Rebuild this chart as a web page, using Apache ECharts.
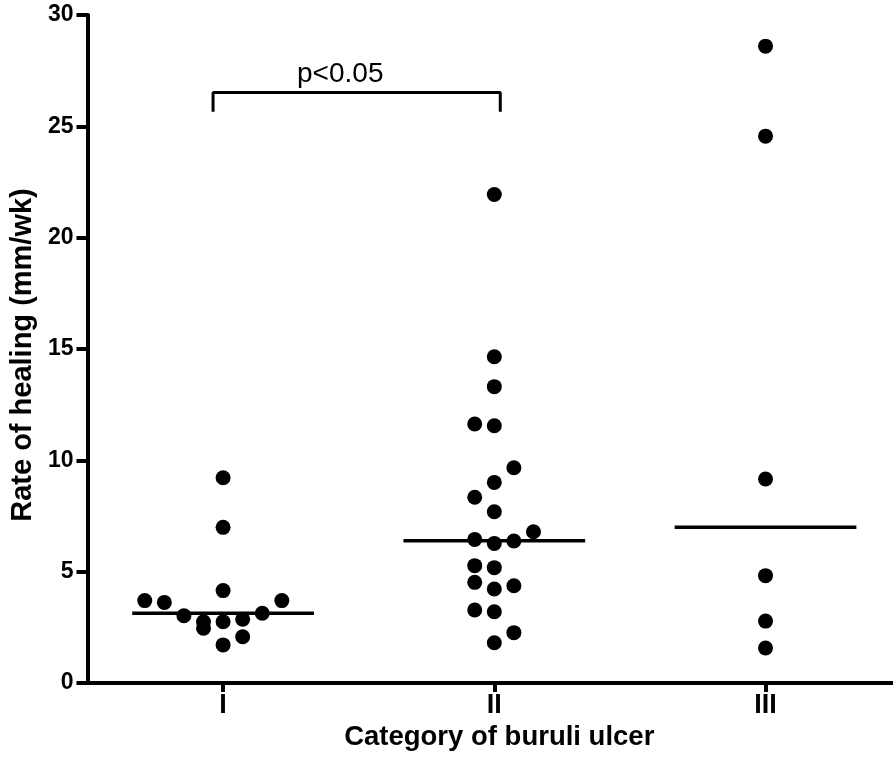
<!DOCTYPE html>
<html><head><meta charset="utf-8">
<script src="https://cdn.jsdelivr.net/npm/echarts@6/dist/echarts.min.js"></script>
<style>html,body{margin:0;padding:0;background:#fff}#c{width:893px;height:765px}</style>
</head><body><div id="c"></div>
<script>
// ---- data ----
const categories = ['I', 'II', 'III'];
const catI   = [9.22, 6.99, 4.15, 3.70, 3.62, 3.70, 3.02, 3.13, 2.75, 2.75, 2.86, 2.46, 2.08, 1.71];
const slotI  = [0, 0, 0, -4, -3, 3, -2, 2, -1, 0, 1, -1, 1, 0];
const catII  = [21.94, 14.65, 13.31, 11.63, 11.55, 9.67, 9.01, 8.34, 7.69, 6.79, 6.45, 6.27, 6.38, 5.27, 5.18, 4.52, 4.22, 4.37, 3.28, 3.20, 2.26, 1.81];
const slotII = [0, 0, 0, -1, 0, 1, 0, -1, 0, 2, -1, 0, 1, -1, 0, -1, 0, 1, -1, 0, 1, 0];
const catIII = [28.6, 24.56, 9.16, 4.82, 2.78, 1.57];
const slotIII = [0, 0, 0, 0, 0, 0];
const medians = [3.13, 6.39, 7.0];
const yTicks = [0, 5, 10, 15, 20, 25, 30];
const sigText = 'p<0.05';
const bracketX = [0.963, 2.022];
const bracketY = [25.65, 26.52];
const sigPos = [1.432, 27.35];

// ---- chart ----
const FONT = 'Liberation Sans, Arial, Helvetica, sans-serif';
const STEP = 0.0722;      // horizontal jitter step (category units)
const HALF = 0.335;       // half width of median line
const groups = [catI, catII, catIII];
const slots = [slotI, slotII, slotIII];

const series = [];
groups.forEach((vals, gi) => {
  series.push({
    type: 'scatter', symbol: 'circle', symbolSize: 15,
    itemStyle: { color: '#000', opacity: 1 }, silent: true,
    data: vals.map((v, i) => [gi + 1 + slots[gi][i] * STEP, v]),
    z: 3
  });
});
medians.forEach((m, gi) => {
  series.push({
    type: 'line', symbol: 'none', silent: true,
    lineStyle: { color: '#000', width: 3.5, opacity: 1 },
    data: [[gi + 1 - HALF, m], [gi + 1 + HALF, m]], z: 2
  });
});
series.push({
  type: 'line', symbol: 'none', silent: true,
  lineStyle: { color: '#000', width: 3, opacity: 1 },
  data: [[bracketX[0], bracketY[0]], [bracketX[0], bracketY[1]], [bracketX[1], bracketY[1]], [bracketX[1], bracketY[0]]]
});
series.push({
  type: 'scatter', symbolSize: 1, itemStyle: { color: '#fff', opacity: 1 }, silent: true,
  label: { show: true, position: 'inside', formatter: sigText, color: '#000', opacity: 1,
           textBorderWidth: 0, fontSize: 28, fontFamily: FONT },
  data: [sigPos]
});

const chart = echarts.init(document.getElementById('c'), null, { renderer: 'canvas' });
chart.setOption({
  animation: false,
  backgroundColor: '#fff',
  grid: { left: 87, right: 0, top: 15, bottom: 82, containLabel: false },
  xAxis: {
    type: 'value', min: 0.5, max: 3.47,
    name: 'Category of buruli ulcer', nameLocation: 'middle', nameGap: 35,
    nameTextStyle: { fontSize: 27.5, fontWeight: 'bold', color: '#000', fontFamily: FONT, padding: [0, 0, 0, 18] },
    axisLine: { show: true, onZero: false, lineStyle: { color: '#000', width: 4 } },
    axisTick: { show: true, length: 9, customValues: [1, 2, 3], lineStyle: { color: '#000', width: 4 } },
    axisLabel: {
      customValues: [1, 2, 3], margin: 9, fontSize: 27, fontWeight: 'bold', color: '#000', fontFamily: FONT,
      formatter: v => categories[Math.round(v) - 1] || ''
    },
    splitLine: { show: false }
  },
  yAxis: {
    type: 'value', min: yTicks[0], max: yTicks[yTicks.length - 1], interval: yTicks[1] - yTicks[0],
    name: 'Rate of healing (mm/wk)', nameLocation: 'middle', nameGap: 49,
    nameTextStyle: { fontSize: 29, fontWeight: 'bold', color: '#000', fontFamily: FONT, padding: [0, 12, 0, 0] },
    axisLine: { show: true, onZero: false, lineStyle: { color: '#000', width: 4 } },
    axisTick: { show: true, length: 11, lineStyle: { color: '#000', width: 4 } },
    axisLabel: { margin: 14, fontSize: 23, fontWeight: 'bold', color: '#000', fontFamily: FONT },
    splitLine: { show: false }
  },
  series: series
});
</script>
</body></html>
